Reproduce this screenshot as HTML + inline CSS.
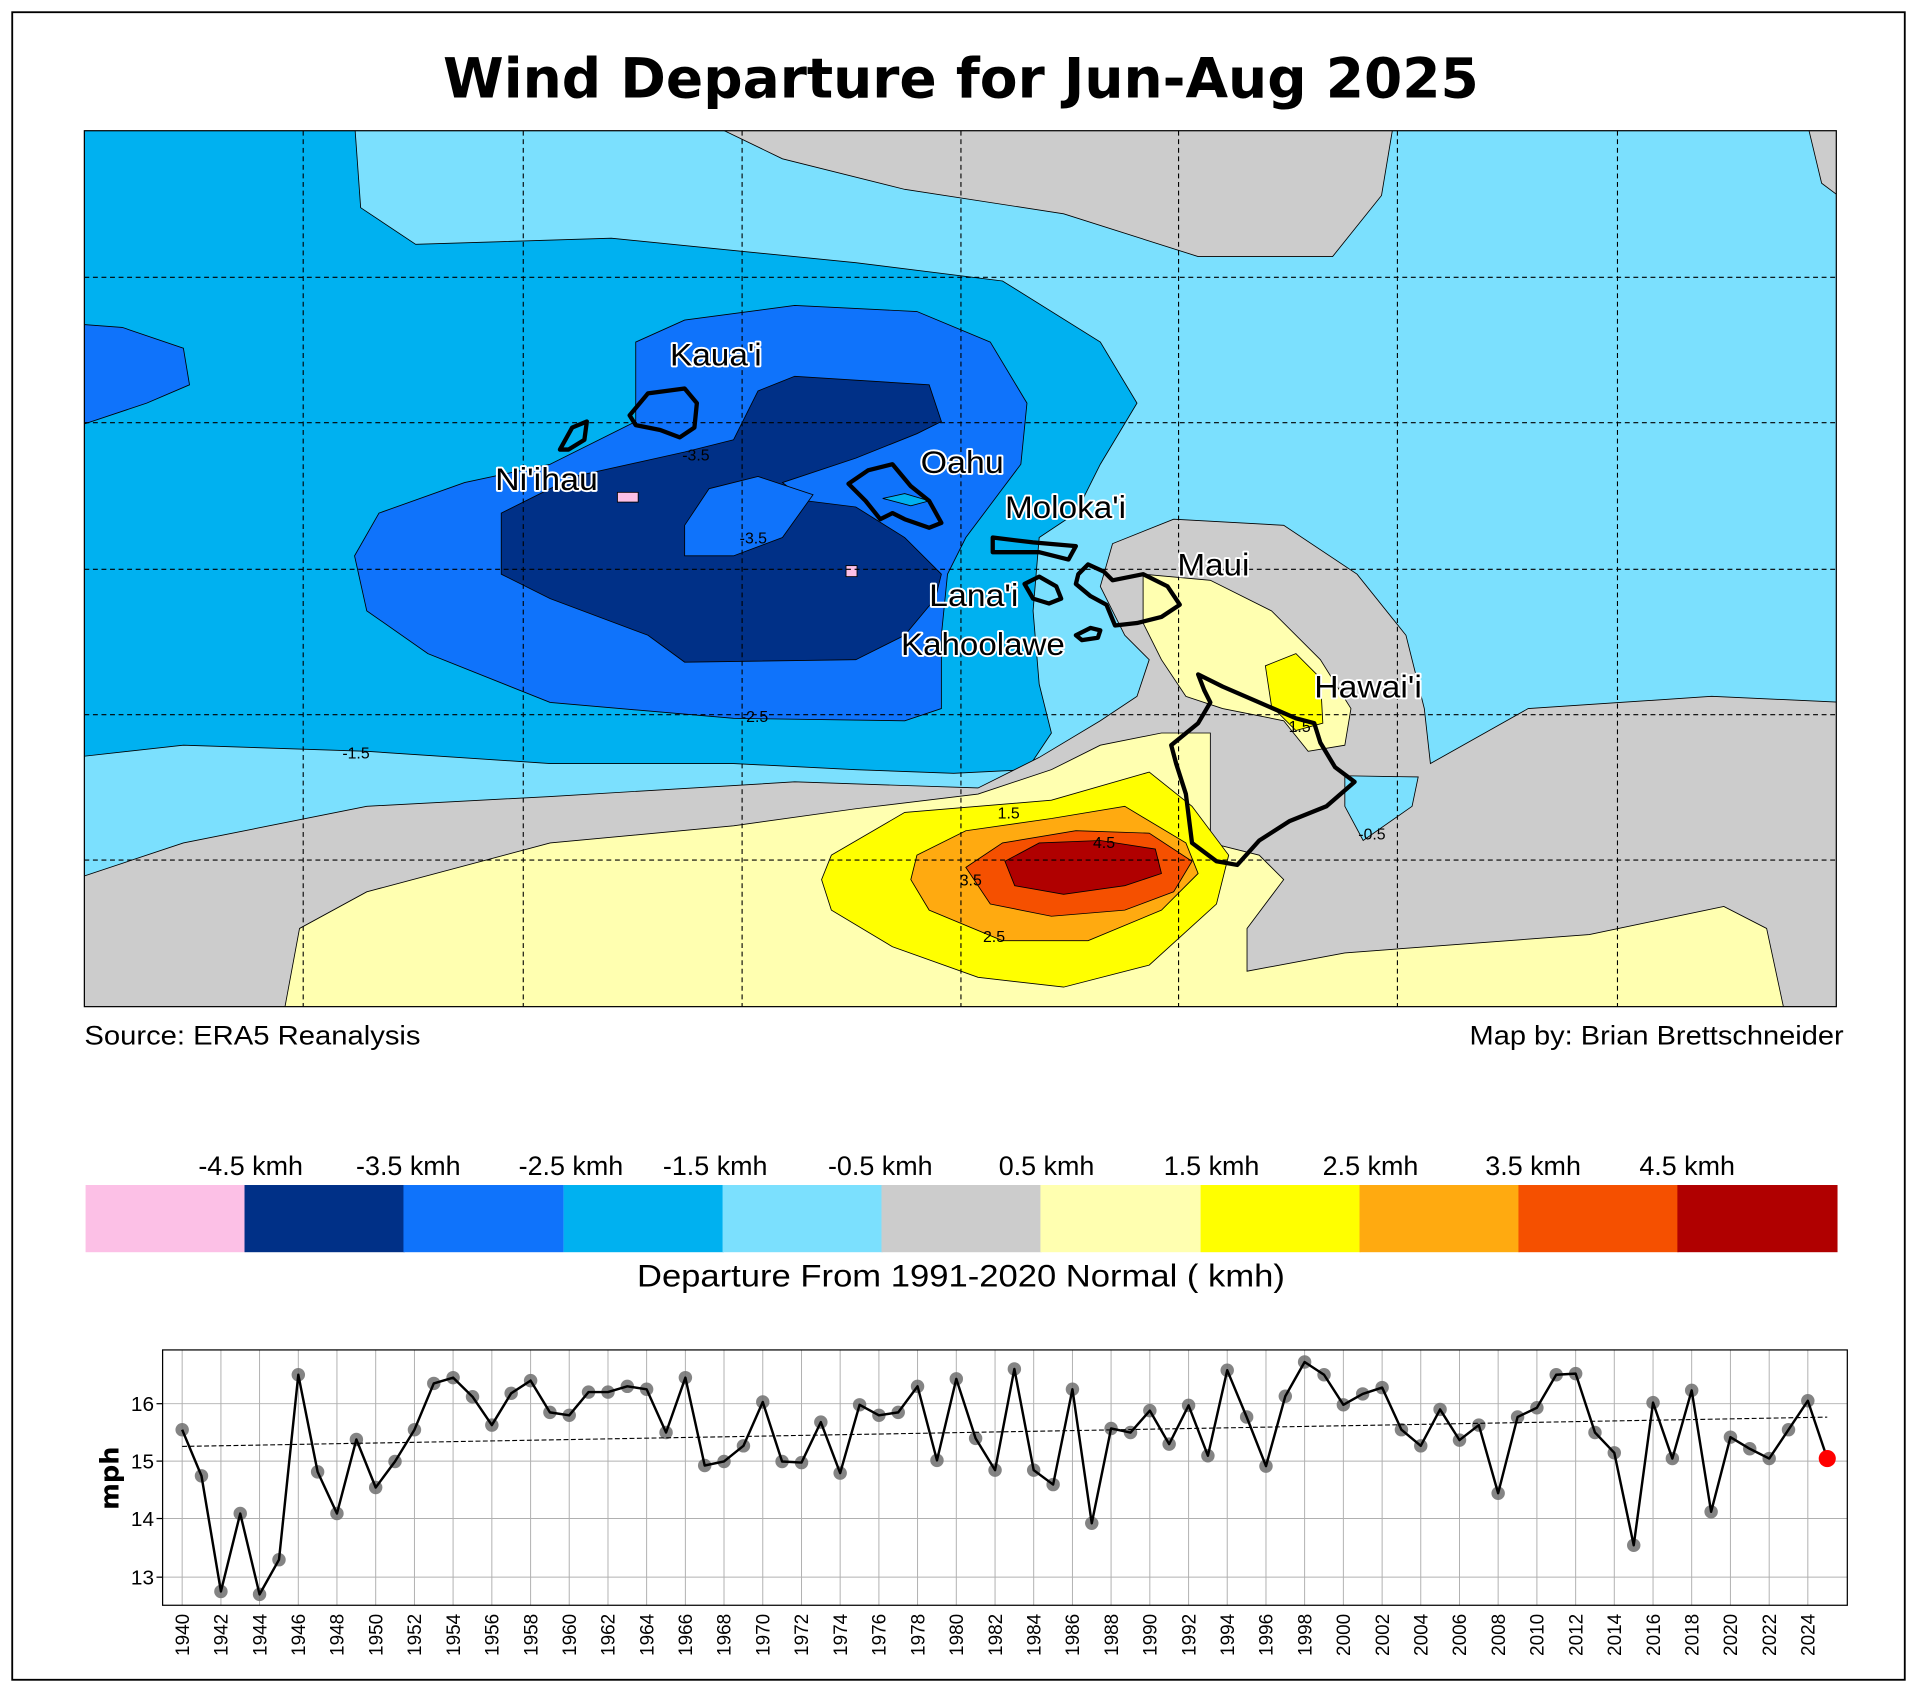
<!DOCTYPE html>
<html><head><meta charset="utf-8"><style>
html,body{margin:0;padding:0;background:#fff;}
svg{display:block;}
text{font-family:"Liberation Sans",sans-serif;}
</style></head><body>
<svg width="1917" height="1692" viewBox="0 0 1568 1385" preserveAspectRatio="none" xmlns="http://www.w3.org/2000/svg">
<rect x="0" y="0" width="1568" height="1385" fill="#fff"/>
<rect x="10" y="10" width="1548" height="1365" fill="none" stroke="#000" stroke-width="1.5"/>
<text x="786" y="80" text-anchor="middle" font-size="45" font-weight="bold" style="font-family:'DejaVu Sans',sans-serif">Wind Departure for Jun-Aug 2025</text>

<defs><clipPath id="mc"><rect x="69" y="107" width="1433" height="717"/></clipPath></defs>
<g clip-path="url(#mc)" stroke="#000" stroke-width="0.7">
<rect x="69" y="107" width="1433" height="717" fill="#7be0fe" stroke="none"/>
<path fill="#00b1f0" d="M60,100 L290,100 L295,170 L340,200 L500,195 L700,215 L820,230 L900,280 L930,330 L900,380 L880,420 L850,440 L845,500 L850,560 L860,600 L840,630 L780,633 L700,630 L600,625 L450,625 L300,615 L150,610 L60,620 Z"/>
<path fill="#cccccc" d="M578,100 L1140,100 L1130,160 L1090,210 L980,210 L870,175 L740,155 L640,130 Z"/>
<path fill="#cccccc" d="M1478,100 L1510,100 L1510,165 L1490,150 Z"/>
<path fill="#cccccc" d="M60,720 L150,690 L300,660 L450,652 L650,640 L800,645 L850,620 L900,590 L930,570 L940,540 L920,520 L900,480 L910,445 L960,425 L1050,430 L1110,470 L1150,520 L1165,580 L1170,625 L1250,580 L1400,570 L1510,575 L1510,830 L60,830 Z"/>
<path fill="#7be0fe" d="M1100,635 L1160,636 L1155,660 L1115,688 L1100,660 Z"/>
<path fill="#ffffb0" d="M232,830 L245,760 L300,730 L450,690 L600,676 L700,662 L800,650 L860,630 L900,610 L950,600 L990,600 L990,690 L1030,700 L1050,720 L1020,760 L1020,795 L1100,780 L1300,765 L1410,742 L1445,760 L1460,830 Z"/>
<path fill="#ffffb0" d="M935,470 L990,475 L1040,500 L1080,540 L1105,580 L1100,610 L1070,615 L1050,590 L1000,580 L970,570 L950,540 L935,510 Z"/>
<path fill="#ffff00" d="M1035,545 L1060,535 L1080,555 L1082,592 L1060,598 L1040,578 Z"/>
<path fill="#ffff00" d="M680,700 L740,665 L860,655 L940,632 L975,660 L1005,700 L995,740 L940,790 L870,808 L800,800 L730,775 L680,745 L672,720 Z"/>
<path fill="#ffaa10" d="M750,700 L790,680 L860,670 L920,660 L970,690 L980,715 L950,745 L890,770 L820,770 L760,745 L745,720 Z"/>
<path fill="#f55000" d="M790,710 L820,690 L880,680 L940,682 L975,705 L960,730 L920,745 L860,750 L810,740 Z"/>
<path fill="#b00000" d="M822,705 L850,690 L900,688 L945,695 L950,715 L920,725 L870,732 L830,725 Z"/>
<path fill="#0f73fb" d="M60,265 L100,268 L150,285 L155,315 L120,330 L60,350 Z"/>
<path fill="#0f73fb" d="M290,455 L310,420 L380,395 L450,380 L520,345 L520,280 L560,262 L650,250 L750,255 L810,280 L840,330 L835,380 L820,400 L790,440 L775,470 L770,520 L770,580 L740,590 L600,588 L450,575 L350,535 L300,500 Z"/>
<path fill="#003087" d="M410,420 L470,390 L560,370 L600,360 L620,320 L650,308 L760,315 L770,345 L750,355 L700,375 L640,395 L660,410 L700,415 L740,440 L770,470 L765,490 L740,520 L700,540 L560,542 L530,520 L450,490 L410,470 Z"/>
<path fill="#0f73fb" d="M560,430 L580,400 L620,390 L665,405 L640,440 L600,455 L560,455 Z"/>
<path fill="#00b1f0" d="M722,408 L740,404 L760,410 L745,414 Z"/>
<rect x="505" y="403" width="17" height="8" fill="#fcc0e6"/>
<rect x="692" y="463" width="9" height="9" fill="#fcc0e6"/>
</g>
<g stroke="#000" stroke-width="0.9" stroke-dasharray="4,3">
<line x1="248" y1="107" x2="248" y2="824"/><line x1="428" y1="107" x2="428" y2="824"/><line x1="607" y1="107" x2="607" y2="824"/><line x1="786" y1="107" x2="786" y2="824"/><line x1="964" y1="107" x2="964" y2="824"/><line x1="1143" y1="107" x2="1143" y2="824"/><line x1="1323" y1="107" x2="1323" y2="824"/>
<line x1="69" y1="227" x2="1502" y2="227"/><line x1="69" y1="346" x2="1502" y2="346"/><line x1="69" y1="466" x2="1502" y2="466"/><line x1="69" y1="585" x2="1502" y2="585"/><line x1="69" y1="704" x2="1502" y2="704"/>
</g>
<g fill="none" stroke="#000" stroke-width="3.5" stroke-linejoin="round">
<path d="M515,340 L530,322 L560,318 L570,330 L568,350 L556,358 L540,352 L520,348 Z"/>
<path d="M458,368 L468,350 L480,345 L478,360 L465,368 Z"/>
<path d="M694,396 L710,385 L730,380 L745,398 L760,410 L770,428 L760,432 L740,425 L730,420 L720,425 L708,410 Z"/>
<path d="M812,440 L845,444 L880,447 L874,458 L850,452 L812,452 Z"/>
<path d="M838,478 L850,472 L864,480 L868,490 L858,494 L845,490 Z"/>
<path d="M882,470 L890,462 L903,468 L910,475 L935,470 L955,480 L965,495 L950,505 L930,510 L912,512 L905,495 L892,488 L880,478 Z"/>
<path d="M880,520 L892,514 L900,516 L898,522 L885,524 Z"/>
<path d="M980,552 L1000,562 L1030,575 L1060,588 L1075,592 L1080,608 L1092,628 L1108,640 L1085,660 L1055,672 L1030,688 L1012,708 L995,705 L975,690 L970,650 L962,625 L958,610 L980,592 L990,575 L985,565 Z"/>
</g>
<g font-size="26" fill="#000" stroke="#fff" stroke-width="3" paint-order="stroke" stroke-linejoin="round">
<text x="548" y="299" textLength="75" lengthAdjust="spacingAndGlyphs">Kaua'i</text><text x="405" y="401" textLength="84" lengthAdjust="spacingAndGlyphs">Ni'ihau</text><text x="753" y="387" textLength="68" lengthAdjust="spacingAndGlyphs">Oahu</text><text x="822" y="424" textLength="99" lengthAdjust="spacingAndGlyphs">Moloka'i</text><text x="963" y="471" textLength="59" lengthAdjust="spacingAndGlyphs">Maui</text><text x="760" y="496" textLength="73" lengthAdjust="spacingAndGlyphs">Lana'i</text><text x="737" y="536" textLength="134" lengthAdjust="spacingAndGlyphs">Kahoolawe</text><text x="1075" y="571" textLength="88" lengthAdjust="spacingAndGlyphs">Hawai'i</text>
</g>
<g font-size="13" fill="#000">
<text x="558" y="377">-3.5</text><text x="280" y="621">-1.5</text><text x="606" y="591">-2.5</text><text x="816" y="670">1.5</text><text x="894" y="694">4.5</text><text x="804" y="771">2.5</text><text x="1111" y="687">-0.5</text><text x="605" y="445">-3.5</text><text x="1054" y="599">1.5</text><text x="785" y="725">3.5</text>
</g>
<rect x="69" y="107" width="1433" height="717" fill="none" stroke="#000" stroke-width="1"/>
<text x="69" y="855" font-size="22" textLength="275" lengthAdjust="spacingAndGlyphs">Source: ERA5 Reanalysis</text>
<text x="1508" y="855" font-size="22" text-anchor="end" textLength="306" lengthAdjust="spacingAndGlyphs">Map by: Brian Brettschneider</text>

<g>
<rect x="70" y="970" width="131" height="55" fill="#fcc0e6"/>
<rect x="200" y="970" width="131" height="55" fill="#003087"/>
<rect x="330" y="970" width="131" height="55" fill="#0f73fb"/>
<rect x="461" y="970" width="131" height="55" fill="#00b1f0"/>
<rect x="591" y="970" width="131" height="55" fill="#7be0fe"/>
<rect x="721" y="970" width="131" height="55" fill="#cccccc"/>
<rect x="851" y="970" width="131" height="55" fill="#ffffb0"/>
<rect x="982" y="970" width="131" height="55" fill="#ffff00"/>
<rect x="1112" y="970" width="131" height="55" fill="#ffaa10"/>
<rect x="1242" y="970" width="131" height="55" fill="#f55000"/>
<rect x="1372" y="970" width="131" height="55" fill="#b00000"/>
</g>
<g font-size="22" text-anchor="middle">
<text x="205" y="962">-4.5 kmh</text><text x="334" y="962">-3.5 kmh</text><text x="467" y="962">-2.5 kmh</text><text x="585" y="962">-1.5 kmh</text><text x="720" y="962">-0.5 kmh</text><text x="856" y="962">0.5 kmh</text><text x="991" y="962">1.5 kmh</text><text x="1121" y="962">2.5 kmh</text><text x="1254" y="962">3.5 kmh</text><text x="1380" y="962">4.5 kmh</text>
</g>
<text x="786" y="1053" font-size="26" text-anchor="middle" textLength="530" lengthAdjust="spacingAndGlyphs">Departure From 1991-2020 Normal ( kmh)</text>

<!-- time series -->
<g stroke="#b0b0b0" stroke-width="0.8">
<line x1="133" y1="1149" x2="1511" y2="1149"/><line x1="133" y1="1196" x2="1511" y2="1196"/><line x1="133" y1="1243" x2="1511" y2="1243"/><line x1="133" y1="1291" x2="1511" y2="1291"/>
<line x1="149" y1="1105" x2="149" y2="1314"/><line x1="180.7" y1="1105" x2="180.7" y2="1314"/><line x1="212.3" y1="1105" x2="212.3" y2="1314"/><line x1="244" y1="1105" x2="244" y2="1314"/><line x1="275.6" y1="1105" x2="275.6" y2="1314"/><line x1="307.3" y1="1105" x2="307.3" y2="1314"/><line x1="339" y1="1105" x2="339" y2="1314"/><line x1="370.6" y1="1105" x2="370.6" y2="1314"/><line x1="402.3" y1="1105" x2="402.3" y2="1314"/><line x1="434" y1="1105" x2="434" y2="1314"/><line x1="465.6" y1="1105" x2="465.6" y2="1314"/><line x1="497.3" y1="1105" x2="497.3" y2="1314"/><line x1="528.9" y1="1105" x2="528.9" y2="1314"/><line x1="560.6" y1="1105" x2="560.6" y2="1314"/><line x1="592.2" y1="1105" x2="592.2" y2="1314"/><line x1="623.9" y1="1105" x2="623.9" y2="1314"/><line x1="655.6" y1="1105" x2="655.6" y2="1314"/><line x1="687.2" y1="1105" x2="687.2" y2="1314"/><line x1="718.9" y1="1105" x2="718.9" y2="1314"/><line x1="750.5" y1="1105" x2="750.5" y2="1314"/><line x1="782.2" y1="1105" x2="782.2" y2="1314"/><line x1="813.9" y1="1105" x2="813.9" y2="1314"/><line x1="845.5" y1="1105" x2="845.5" y2="1314"/><line x1="877.2" y1="1105" x2="877.2" y2="1314"/><line x1="908.8" y1="1105" x2="908.8" y2="1314"/><line x1="940.5" y1="1105" x2="940.5" y2="1314"/><line x1="972.2" y1="1105" x2="972.2" y2="1314"/><line x1="1003.8" y1="1105" x2="1003.8" y2="1314"/><line x1="1035.5" y1="1105" x2="1035.5" y2="1314"/><line x1="1067.1" y1="1105" x2="1067.1" y2="1314"/><line x1="1098.8" y1="1105" x2="1098.8" y2="1314"/><line x1="1130.5" y1="1105" x2="1130.5" y2="1314"/><line x1="1162.1" y1="1105" x2="1162.1" y2="1314"/><line x1="1193.8" y1="1105" x2="1193.8" y2="1314"/><line x1="1225.4" y1="1105" x2="1225.4" y2="1314"/><line x1="1257.1" y1="1105" x2="1257.1" y2="1314"/><line x1="1288.8" y1="1105" x2="1288.8" y2="1314"/><line x1="1320.4" y1="1105" x2="1320.4" y2="1314"/><line x1="1352.1" y1="1105" x2="1352.1" y2="1314"/><line x1="1383.7" y1="1105" x2="1383.7" y2="1314"/><line x1="1415.4" y1="1105" x2="1415.4" y2="1314"/><line x1="1447.1" y1="1105" x2="1447.1" y2="1314"/><line x1="1478.7" y1="1105" x2="1478.7" y2="1314"/>
</g>
<defs><marker id="dot" markerWidth="14" markerHeight="14" refX="7" refY="7" markerUnits="userSpaceOnUse"><circle cx="7" cy="7" r="5.5" fill="#6e6e6e" fill-opacity="0.85"/></marker></defs>
<polyline fill="none" stroke="none" marker-start="url(#dot)" marker-mid="url(#dot)" marker-end="url(#dot)" points="149,1170.3 164.8,1208.1 180.7,1302.7 196.5,1238.9 212.3,1305.1 228.2,1276.7 244,1125.3 259.8,1204.8 275.6,1238.9 291.5,1178.3 307.3,1217.6 323.1,1196.3 339,1170.3 354.8,1132.4 370.6,1127.7 386.5,1143.3 402.3,1166.5 418.1,1140.5 434,1130.1 449.8,1156.1 465.6,1158.5 481.4,1139.5 497.3,1139.5 513.1,1134.8 528.9,1137.2 544.8,1172.6 560.6,1127.7 576.4,1199.6 592.2,1196.3 608.1,1183.5 623.9,1147.6 639.7,1196.3 655.6,1197.2 671.4,1164.1 687.2,1205.8 703.1,1149.9 718.9,1158.5 734.7,1156.1 750.5,1134.8 766.4,1195.4 782.2,1128.7 798,1177.4 813.9,1203.4 829.7,1120.6 845.5,1203.4 861.4,1215.2 877.2,1137.2 893,1246.9 908.8,1169.3 924.7,1172.6 940.5,1154.7 956.3,1182.1 972.2,1150.4 988,1191.6 1003.8,1121.6 1019.7,1159.9 1035.5,1200.1 1051.3,1142.9 1067.1,1114.9 1083,1125.3 1098.8,1149.9 1114.6,1141 1130.5,1135.8 1146.3,1170.3 1162.1,1183.5 1177.9,1153.7 1193.8,1178.8 1209.6,1166.5 1225.4,1222.3 1241.3,1159.9 1257.1,1152.3 1272.9,1125.3 1288.8,1124.4 1304.6,1172.6 1320.4,1189.2 1336.3,1264.9 1352.1,1148.1 1367.9,1193.9 1383.7,1138.1 1399.6,1237.5 1415.4,1176.4 1431.2,1185.9 1447.1,1193.9 1462.9,1170.3 1478.7,1146.6 1494.6,1193.9"/>
<line x1="149" y1="1184" x2="1494.6" y2="1160" stroke="#000" stroke-width="0.9" stroke-dasharray="4,2"/>
<polyline fill="none" stroke="#000" stroke-width="2" stroke-linejoin="round" points="149,1170.3 164.8,1208.1 180.7,1302.7 196.5,1238.9 212.3,1305.1 228.2,1276.7 244,1125.3 259.8,1204.8 275.6,1238.9 291.5,1178.3 307.3,1217.6 323.1,1196.3 339,1170.3 354.8,1132.4 370.6,1127.7 386.5,1143.3 402.3,1166.5 418.1,1140.5 434,1130.1 449.8,1156.1 465.6,1158.5 481.4,1139.5 497.3,1139.5 513.1,1134.8 528.9,1137.2 544.8,1172.6 560.6,1127.7 576.4,1199.6 592.2,1196.3 608.1,1183.5 623.9,1147.6 639.7,1196.3 655.6,1197.2 671.4,1164.1 687.2,1205.8 703.1,1149.9 718.9,1158.5 734.7,1156.1 750.5,1134.8 766.4,1195.4 782.2,1128.7 798,1177.4 813.9,1203.4 829.7,1120.6 845.5,1203.4 861.4,1215.2 877.2,1137.2 893,1246.9 908.8,1169.3 924.7,1172.6 940.5,1154.7 956.3,1182.1 972.2,1150.4 988,1191.6 1003.8,1121.6 1019.7,1159.9 1035.5,1200.1 1051.3,1142.9 1067.1,1114.9 1083,1125.3 1098.8,1149.9 1114.6,1141 1130.5,1135.8 1146.3,1170.3 1162.1,1183.5 1177.9,1153.7 1193.8,1178.8 1209.6,1166.5 1225.4,1222.3 1241.3,1159.9 1257.1,1152.3 1272.9,1125.3 1288.8,1124.4 1304.6,1172.6 1320.4,1189.2 1336.3,1264.9 1352.1,1148.1 1367.9,1193.9 1383.7,1138.1 1399.6,1237.5 1415.4,1176.4 1431.2,1185.9 1447.1,1193.9 1462.9,1170.3 1478.7,1146.6 1494.6,1193.9"/>
<circle cx="1494.6" cy="1193.9" r="7" fill="#ff0000"/>
<rect x="133" y="1105" width="1378" height="209" fill="none" stroke="#000" stroke-width="1"/>
<g stroke="#000" stroke-width="1">
<line x1="128" y1="1149" x2="133" y2="1149"/><line x1="128" y1="1196" x2="133" y2="1196"/><line x1="128" y1="1243" x2="133" y2="1243"/><line x1="128" y1="1291" x2="133" y2="1291"/>
</g>
<g font-size="17" text-anchor="end" style="font-family:'DejaVu Sans',sans-serif">
<text x="126" y="1155">16</text><text x="126" y="1202">15</text><text x="126" y="1249">14</text><text x="126" y="1297">13</text>
</g>
<text transform="translate(97,1210) rotate(-90)" font-size="21" font-weight="bold" text-anchor="middle" style="font-family:'DejaVu Sans',sans-serif">mph</text>
<g font-size="15.5" text-anchor="end" style="font-family:'DejaVu Sans',sans-serif">
<text transform="translate(154.5,1321) rotate(-90)">1940</text><text transform="translate(186.2,1321) rotate(-90)">1942</text><text transform="translate(217.8,1321) rotate(-90)">1944</text><text transform="translate(249.5,1321) rotate(-90)">1946</text><text transform="translate(281.1,1321) rotate(-90)">1948</text><text transform="translate(312.8,1321) rotate(-90)">1950</text><text transform="translate(344.5,1321) rotate(-90)">1952</text><text transform="translate(376.1,1321) rotate(-90)">1954</text><text transform="translate(407.8,1321) rotate(-90)">1956</text><text transform="translate(439.5,1321) rotate(-90)">1958</text><text transform="translate(471.1,1321) rotate(-90)">1960</text><text transform="translate(502.8,1321) rotate(-90)">1962</text><text transform="translate(534.4,1321) rotate(-90)">1964</text><text transform="translate(566.1,1321) rotate(-90)">1966</text><text transform="translate(597.7,1321) rotate(-90)">1968</text><text transform="translate(629.4,1321) rotate(-90)">1970</text><text transform="translate(661.1,1321) rotate(-90)">1972</text><text transform="translate(692.7,1321) rotate(-90)">1974</text><text transform="translate(724.4,1321) rotate(-90)">1976</text><text transform="translate(756,1321) rotate(-90)">1978</text><text transform="translate(787.7,1321) rotate(-90)">1980</text><text transform="translate(819.4,1321) rotate(-90)">1982</text><text transform="translate(851,1321) rotate(-90)">1984</text><text transform="translate(882.7,1321) rotate(-90)">1986</text><text transform="translate(914.3,1321) rotate(-90)">1988</text><text transform="translate(946,1321) rotate(-90)">1990</text><text transform="translate(977.7,1321) rotate(-90)">1992</text><text transform="translate(1009.3,1321) rotate(-90)">1994</text><text transform="translate(1041,1321) rotate(-90)">1996</text><text transform="translate(1072.6,1321) rotate(-90)">1998</text><text transform="translate(1104.3,1321) rotate(-90)">2000</text><text transform="translate(1136,1321) rotate(-90)">2002</text><text transform="translate(1167.6,1321) rotate(-90)">2004</text><text transform="translate(1199.3,1321) rotate(-90)">2006</text><text transform="translate(1230.9,1321) rotate(-90)">2008</text><text transform="translate(1262.6,1321) rotate(-90)">2010</text><text transform="translate(1294.3,1321) rotate(-90)">2012</text><text transform="translate(1325.9,1321) rotate(-90)">2014</text><text transform="translate(1357.6,1321) rotate(-90)">2016</text><text transform="translate(1389.2,1321) rotate(-90)">2018</text><text transform="translate(1420.9,1321) rotate(-90)">2020</text><text transform="translate(1452.6,1321) rotate(-90)">2022</text><text transform="translate(1484.2,1321) rotate(-90)">2024</text>
</g>
</svg>
</body></html>
